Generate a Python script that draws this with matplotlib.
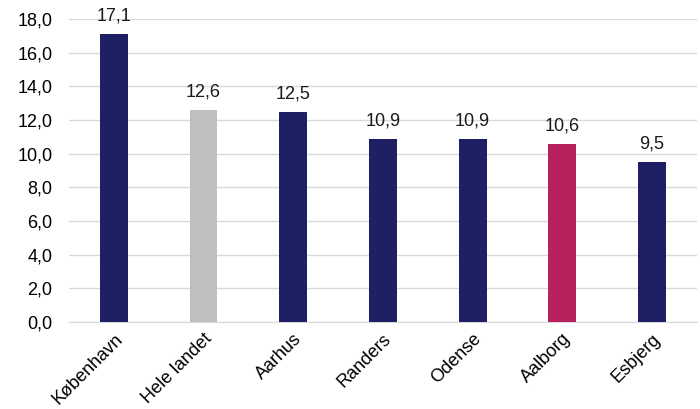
import matplotlib
matplotlib.use("Agg")
import matplotlib.pyplot as plt
import matplotlib.transforms as mtransforms

categories = ["København", "Hele landet", "Aarhus", "Randers", "Odense", "Aalborg", "Esbjerg"]
values = [17.1, 12.6, 12.5, 10.9, 10.9, 10.6, 9.5]
colors = ["#1f1f66", "#bfbfbf", "#1f1f66", "#1f1f66", "#1f1f66", "#b8215e", "#1f1f66"]
yticks = [0, 2, 4, 6, 8, 10, 12, 14, 16, 18]

plt.rcParams['font.family'] = ['Liberation Sans', 'DejaVu Sans']

fig = plt.figure(figsize=(7, 4.09), dpi=100)
ax = fig.add_axes([0.0986, 0.2127, 0.897, 0.7408])
x = list(range(len(categories)))
ax.bar(x, values, width=0.31, color=colors, zorder=3)
for xi, v in zip(x, values):
    ax.text(xi, v + 0.55, f"{v:.1f}".replace(".", ","), ha="center", va="bottom", fontsize=13, color="#1a1a1a")
ax.set_ylim(0, 18)
ax.set_xlim(-0.5, len(categories) - 0.5)
ax.set_yticks(yticks)
ax.set_yticklabels([f"{t:.1f}".replace(".", ",") for t in yticks], fontsize=13)
ax.set_xticks(x)
ax.set_xticklabels(categories, rotation=45, ha="right", rotation_mode="anchor", fontsize=13)
offset = mtransforms.ScaledTranslation(7 / 100, 3 / 100, fig.dpi_scale_trans)
for lbl in ax.get_xticklabels():
    lbl.set_transform(lbl.get_transform() + offset)
ax.grid(axis="y", color="#d9d9d9", linewidth=1, zorder=0)
for s in ["top", "right", "left"]:
    ax.spines[s].set_visible(False)
ax.spines["bottom"].set_color("#d9d9d9")
ax.tick_params(axis="both", length=0, pad=6)
ax.tick_params(axis="y", pad=12)
fig.savefig("out.png", dpi=100)
